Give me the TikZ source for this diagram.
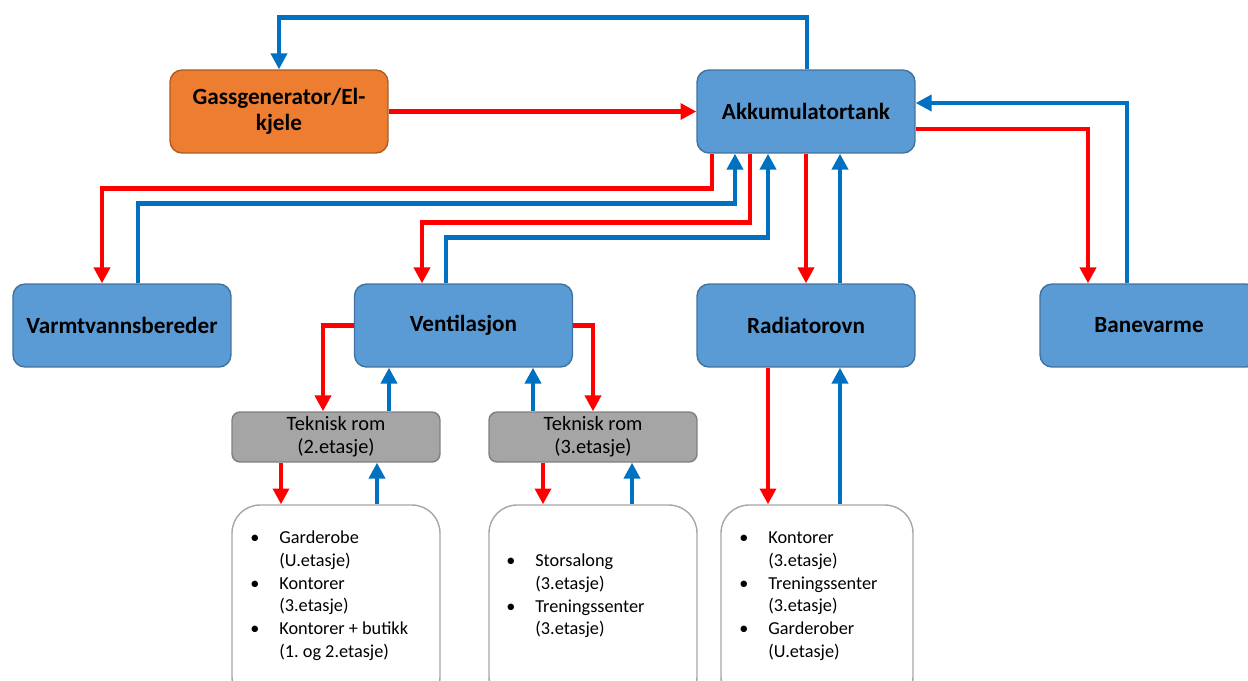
\documentclass[tikz,border=0pt]{standalone}
\usepackage{fontspec}
\setmainfont{Carlito}
\usetikzlibrary{arrows.meta,calc}

\definecolor{bluebox}{HTML}{5B9BD5}
\definecolor{blueedge}{HTML}{41719C}
\definecolor{orangebox}{HTML}{ED7D31}
\definecolor{orangeedge}{HTML}{AE5A21}
\definecolor{greybox}{HTML}{A5A5A5}
\definecolor{greyedge}{HTML}{7F7F7F}
\definecolor{listedge}{HTML}{A6A6A6}
\definecolor{hotline}{HTML}{FF0000}
\definecolor{coldline}{HTML}{0070C0}

\begin{document}
\begin{tikzpicture}[
		x=0.02cm, y=-0.02cm,
		hot/.style={draw=hotline, line width=2.8pt, -{Triangle[length=9pt,width=9pt]}},
		cold/.style={draw=coldline, line width=2.8pt, -{Triangle[length=9pt,width=9pt]}},
		unit/.style={draw=blueedge, fill=bluebox, line width=0.8pt, rounded corners=0.24cm, minimum width=4.36cm, minimum height=1.66cm, align=center, font=\fontsize{13.2}{14.5}\selectfont\bfseries},
		room/.style={draw=greyedge, fill=greybox, line width=0.8pt, rounded corners=0.16cm, minimum width=4.16cm, minimum height=1cm, align=center, inner sep=0pt, font=\fontsize{11.6}{13}\selectfont},
		zone/.style={draw=listedge, fill=white, line width=0.8pt, rounded corners=0.56cm, minimum width=4.16cm, minimum height=4cm},
		zonetext/.style={anchor=north west, inner sep=0pt, font=\fontsize{10.4}{13}\selectfont},
	]
		\useasboundingbox (0,0) rectangle (1248,680);

		% main units
		\node[unit, fill=orangebox, draw=orangeedge] (gass) at (279,111.5) {Gassgenerator/El-\\kjele};
		\node[unit] (akk) at (806,111.5) {Akkumulatortank};
		\node[unit] (varm) at (122,325.5) {Varmtvannsbereder};
		\node[unit] (vent) at (463.5,325.5) {Ventilasjon};
		\node[unit] (rad) at (806,325.5) {Radiatorovn};
		\node[unit] (bane) at (1149,325.5) {Banevarme};

		% technical rooms
		\node[room] (tek2) at (336,437) {Teknisk rom\\(2.etasje)};
		\node[room] (tek3) at (593,437) {Teknisk rom\\(3.etasje)};

		% served zones
		\node[zone] (zone1) at (336,605) {};
		\node[zone] (zone2) at (593,605) {};
		\node[zone, minimum width=3.84cm] (zone3) at (817,605) {};
		\node[zonetext] (zone1txt) at (250,527) {\begin{tabular}{@{}p{16.5pt}@{}l@{}}
			\textbullet & Garderobe\\ & (U.etasje)\\
			\textbullet & Kontorer\\ & (3.etasje)\\
			\textbullet & Kontorer + butikk\\ & (1.\ og 2.etasje)\end{tabular}};
		\node[zonetext] (zone2txt) at (506,550) {\begin{tabular}{@{}p{16.5pt}@{}l@{}}
			\textbullet & Storsalong\\ & (3.etasje)\\
			\textbullet & Treningssenter\\ & (3.etasje)\end{tabular}};
		\node[zonetext] (zone3txt) at (739,527) {\begin{tabular}{@{}p{16.5pt}@{}l@{}}
			\textbullet & Kontorer\\ & (3.etasje)\\
			\textbullet & Treningssenter\\ & (3.etasje)\\
			\textbullet & Garderober\\ & (U.etasje)\end{tabular}};

		% heat source loop
		\draw[cold] ($(akk.north)+(1,0)$) -- ++(0,-52) -| (gass.north);
		\draw[hot] (gass.east) -- (akk.west);

		% banevarme
		\draw[cold] ($(bane.north)+(-22,0)$) |- ($(akk.east)+(0,-8.5)$);
		\draw[hot] ($(akk.east)+(0,17.5)$) -| ($(bane.north)+(-61,0)$);

		% varmtvann and ventilasjon
		\draw[hot] ($(akk.south)+(-94,0)$) -- ++(0,35) -| ($(varm.north)+(-20,0)$);
		\draw[cold] ($(varm.north)+(16,0)$) -- ++(0,-80) -| ($(akk.south)+(-71,0)$);
		\draw[hot] ($(akk.south)+(-56,0)$) -- ++(0,69) -| ($(vent.north)+(-41.5,0)$);
		\draw[cold] ($(vent.north)+(-17.5,0)$) -- ++(0,-46) -| ($(akk.south)+(-38,0)$);

		% radiatorer
		\draw[hot] (akk.south) -- (rad.north);
		\draw[cold] ($(rad.north)+(34,0)$) -- ($(akk.south)+(34,0)$);

		% ventilasjon to technical rooms
		\draw[hot] (vent.west) -| ($(tek2.north)+(-13,0)$);
		\draw[cold] ($(tek2.north)+(53,0)$) coordinate (t2up) -- (t2up |- vent.south);
		\draw[cold] ($(tek3.north)+(-60,0)$) coordinate (t3up) -- (t3up |- vent.south);
		\draw[hot] (vent.east) -| (tek3.north);

		% technical rooms to zones
		\draw[hot] ($(tek2.south)+(-55,0)$) coordinate (t2dn) -- (t2dn |- zone1.north);
		\draw[cold] ($(zone1.north)+(41,0)$) coordinate (z1up) -- (z1up |- tek2.south);
		\draw[hot] ($(tek3.south)+(-50,0)$) coordinate (t3dn) -- (t3dn |- zone2.north);
		\draw[cold] ($(zone2.north)+(39,0)$) coordinate (z2up) -- (z2up |- tek3.south);
		\draw[hot] ($(rad.south)+(-38,0)$) coordinate (rdn) -- (rdn |- zone3.north);
		\path ($(rad.south)+(34,0)$) coordinate (rup);
		\draw[cold] (rup |- zone3.north) -- (rup);
\end{tikzpicture}
\end{document}
